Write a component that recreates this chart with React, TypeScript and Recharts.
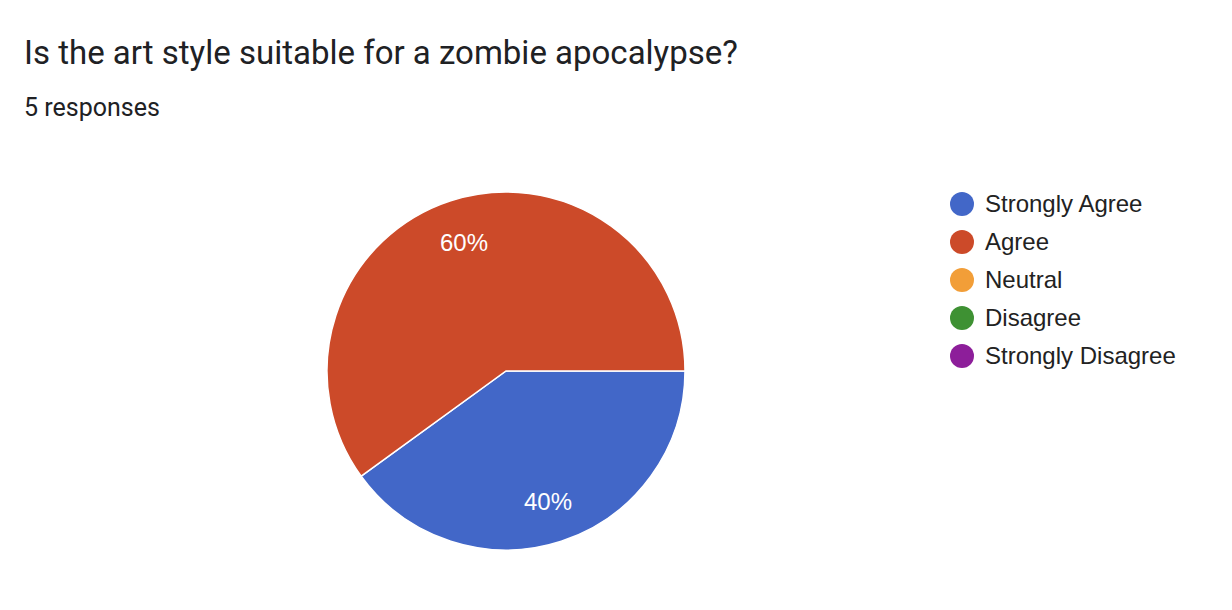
import { PieChart, Pie, Cell } from 'recharts';

const categories = ['Strongly Agree', 'Agree', 'Neutral', 'Disagree', 'Strongly Disagree'];
const responses = [2, 3, 0, 0, 0];
const colors = ['#4267c8', '#cc4a29', '#f29e38', '#3e9133', '#8d1e9a'];
const title = 'Is the art style suitable for a zombie apocalypse?';
const subtitle = '5 responses';

const data = categories.map((name, i) => ({ name, value: responses[i] }));

const RAD = Math.PI / 180;

function renderLabel(props: any) {
  const { cx, cy, midAngle, outerRadius, percent, value } = props;
  if (!value) return null;
  const r = outerRadius * 0.76;
  const x = cx + r * Math.cos(-midAngle * RAD);
  const y = cy + r * Math.sin(-midAngle * RAD) + 1;
  return (
    <text x={x} y={y} fill="#fff" textAnchor="middle" dominantBaseline="central"
      fontFamily="Liberation Sans, Arial, sans-serif" fontSize={24}>
      {`${Math.round(percent * 100)}%`}
    </text>
  );
}

export default function App() {
  return (
    <div style={{ position: 'absolute', left: 0, top: 0, width: 1232, height: 610, background: '#fff' }}>
      <div style={{ position: 'absolute', left: 24, top: 32, fontFamily: 'Roboto, sans-serif', fontSize: 33, lineHeight: '42px', color: '#202124' }}>
        {title}
      </div>
      <div style={{ position: 'absolute', left: 24, top: 92, fontFamily: 'Roboto, sans-serif', fontSize: 25, lineHeight: '32px', color: '#202124' }}>
        {subtitle}
      </div>
      <div style={{ position: 'absolute', left: 0, top: 0 }}>
        <PieChart width={1232} height={610} margin={{ top: 0, right: 0, bottom: 0, left: 0 }}>
          <Pie
            data={data}
            dataKey="value"
            nameKey="name"
            cx={506}
            cy={371}
            outerRadius={179}
            startAngle={0}
            endAngle={-360}
            stroke="#fff"
            strokeWidth={1.5}
            label={renderLabel}
            labelLine={false}
            isAnimationActive={false}
          >
            {data.map((d, i) => (
              <Cell key={d.name} fill={colors[i]} />
            ))}
          </Pie>
        </PieChart>
      </div>
      <div style={{ position: 'absolute', left: 950, top: 185 }}>
        {categories.map((c, i) => (
          <div key={c} style={{ display: 'flex', alignItems: 'center', height: 38 }}>
            <span style={{ width: 24, height: 24, borderRadius: 12, background: colors[i], marginRight: 11 }} />
            <span style={{ fontFamily: 'Liberation Sans, Arial, sans-serif', fontSize: 24, color: '#222' }}>{c}</span>
          </div>
        ))}
      </div>
    </div>
  );
}
